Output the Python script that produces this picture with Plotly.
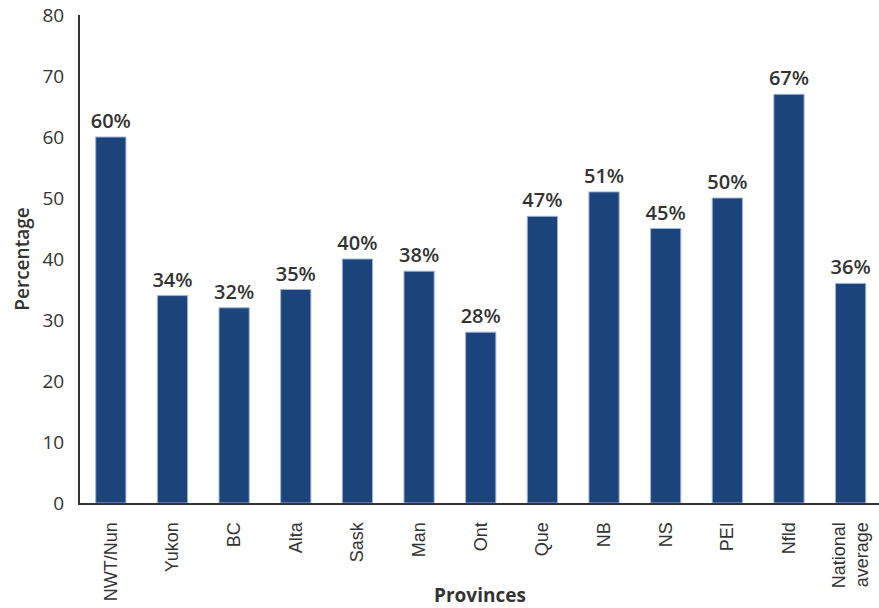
import plotly.graph_objects as go

provinces = ["NWT/Nun", "Yukon", "BC", "Alta", "Sask", "Man", "Ont", "Que", "NB", "NS", "PEI", "Nfld", "National<br>average"]
percentages = [60, 34, 32, 35, 40, 38, 28, 47, 51, 45, 50, 67, 36]
y_ticks = [0, 10, 20, 30, 40, 50, 60, 70, 80]

TXT = "#333333"
MAIN_FONT = "Open Sans, Verdana, sans-serif"

fig = go.Figure(go.Bar(
    x=list(range(len(provinces))),
    y=percentages,
    width=0.49,
    marker=dict(color="#1b437c", line=dict(color="#9fb3d6", width=1)),
    texttemplate="%{y}%",
    textposition="outside",
    constraintext="none",
    textfont=dict(family=MAIN_FONT, size=20, color=TXT, weight=600),
    cliponaxis=False,
))

fig.update_layout(
    width=879, height=608,
    margin=dict(l=80, r=0, t=15, b=105, autoexpand=False),
    plot_bgcolor="white", paper_bgcolor="white",
    showlegend=False,
    annotations=[dict(
        text="Provinces", xref="paper", yref="paper", x=0.5, y=0,
        yshift=-92, yanchor="middle", xanchor="center", showarrow=False,
        font=dict(family=MAIN_FONT, size=19, color=TXT, weight="bold"),
    )],
)
fig.update_xaxes(
    tickvals=list(range(len(provinces))), ticktext=provinces,
    range=[-0.5, 12.46],
    tickangle=-90,
    tickfont=dict(family="Liberation Sans Narrow, Arial Narrow, Liberation Sans, sans-serif", size=18, color=TXT),
    showline=True, linecolor="#333333", linewidth=2,
    ticks="outside", ticklen=10, tickcolor="rgba(0,0,0,0)",
    showgrid=False, zeroline=False, automargin=False,
)
fig.update_yaxes(
    range=[0, 80], tickvals=y_ticks,
    tickfont=dict(family=MAIN_FONT, size=19, color=TXT),
    ticklabeloverflow="allow",
    showline=True, linecolor="#333333", linewidth=2,
    ticks="outside", ticklen=10, tickcolor="rgba(0,0,0,0)",
    showgrid=False, zeroline=False, automargin=False,
    title=dict(text="Percentage", font=dict(family=MAIN_FONT, size=19, color=TXT, weight=600), standoff=8),
)

fig.write_html(
    "out.html",
    config={"displayModeBar": False},
    post_script="document.body.style.margin='0';document.body.style.overflow='hidden';",
)
